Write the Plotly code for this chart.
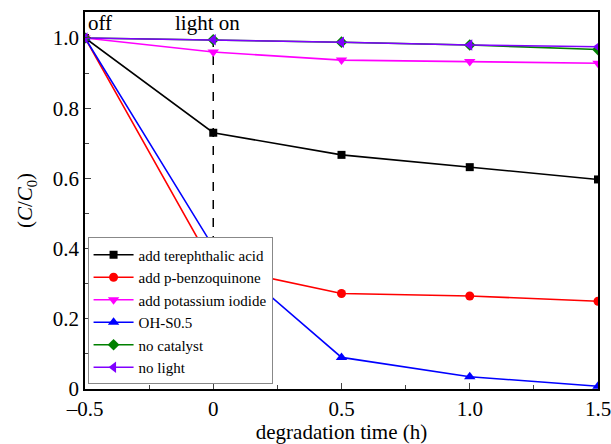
import plotly.graph_objects as go

time_h = [-0.5, 0, 0.5, 1.0, 1.5]
names = ["add terephthalic acid", "add p-benzoquinone", "add potassium iodide",
         "OH-S0.5", "no catalyst", "no light"]
terephthalic = [1.0, 0.73, 0.667, 0.632, 0.597]
benzoquinone = [1.0, 0.35, 0.272, 0.265, 0.25]
potassium_iodide = [1.0, 0.96, 0.937, 0.933, 0.928]
oh_s05 = [1.0, 0.405, 0.09, 0.035, 0.008]
no_catalyst = [1.0, 0.995, 0.988, 0.98, 0.967]
no_light = [1.0, 0.995, 0.988, 0.98, 0.975]
series = [terephthalic, benzoquinone, potassium_iodide, oh_s05, no_catalyst, no_light]
colors = ["#000000", "#ff0000", "#ff00ff", "#0000ff", "#008000", "#8000ff"]
symbols = ["square", "circle", "triangle-down", "triangle-up", "diamond", "triangle-left"]
sizes = [8, 9, 10, 10, 9, 10]
light_line_x = [0, 0]
light_line_y = [1.0, 0.405]

FONT = "Liberation Serif"
FS = 21
fig = go.Figure()
fig.add_trace(go.Scatter(x=light_line_x, y=light_line_y, mode="lines",
                         line=dict(color="black", width=1.5, dash="dash"),
                         showlegend=False, hoverinfo="skip"))
for n, s, c, m, sz in zip(names, series, colors, symbols, sizes):
    fig.add_trace(go.Scatter(x=time_h, y=s, name=n, mode="lines+markers",
                             line=dict(color=c, width=1.6),
                             marker=dict(symbol=m, size=sz, color=c)))

fig.update_layout(
    width=611, height=444,
    margin=dict(l=85, r=13, t=12, b=55),
    plot_bgcolor="white", paper_bgcolor="white",
    font=dict(family=FONT, size=FS, color="black"),
    legend=dict(x=0.005, y=0.012, xanchor="left", yanchor="bottom",
                bgcolor="white", bordercolor="#888888", borderwidth=1,
                font=dict(family=FONT, size=15), tracegroupgap=0, itemwidth=40),
    xaxis=dict(range=[-0.5, 1.5], tickvals=[-0.5, 0, 0.5, 1.0, 1.5],
               ticktext=["\u20130.5", "0", "0.5", "1.0", "1.5"],
               tickfont=dict(family=FONT, size=FS), automargin=False,
               ticklabeloverflow="allow",
               ticks="inside", ticklen=6, showline=True, linecolor="black",
               linewidth=1.5, mirror=True, showgrid=False, zeroline=False,
               minor=dict(ticks="inside", ticklen=4, dtick=0.25, showgrid=False),
               title=dict(text="degradation time (h)", standoff=0,
                          font=dict(family=FONT, size=FS))),
    yaxis=dict(range=[0, 1.074], tickvals=[0, 0.2, 0.4, 0.6, 0.8, 1.0],
               ticktext=["0", "0.2", "0.4", "0.6", "0.8", "1.0"],
               tickfont=dict(family=FONT, size=FS), automargin=False,
               ticklabeloverflow="allow",
               ticks="inside", ticklen=6, showline=True, linecolor="black",
               linewidth=1.5, mirror=True, showgrid=False, zeroline=False,
               minor=dict(ticks="inside", ticklen=4, dtick=0.1, showgrid=False),
               title=dict(text="(<i>C</i>/<i>C</i><sub>0</sub>)", standoff=14,
                          font=dict(family=FONT, size=FS))),
    annotations=[
        dict(x=-0.5, y=1.074, xref="x", yref="y", text="off", showarrow=False,
             xanchor="left", yanchor="top", xshift=1, yshift=3,
             font=dict(family=FONT, size=FS)),
        dict(x=0, y=1.074, xref="x", yref="y", text="light on", showarrow=False,
             xanchor="center", yanchor="top", xshift=-6, yshift=3,
             font=dict(family=FONT, size=FS)),
    ],
)
fig.write_html("out.html")
